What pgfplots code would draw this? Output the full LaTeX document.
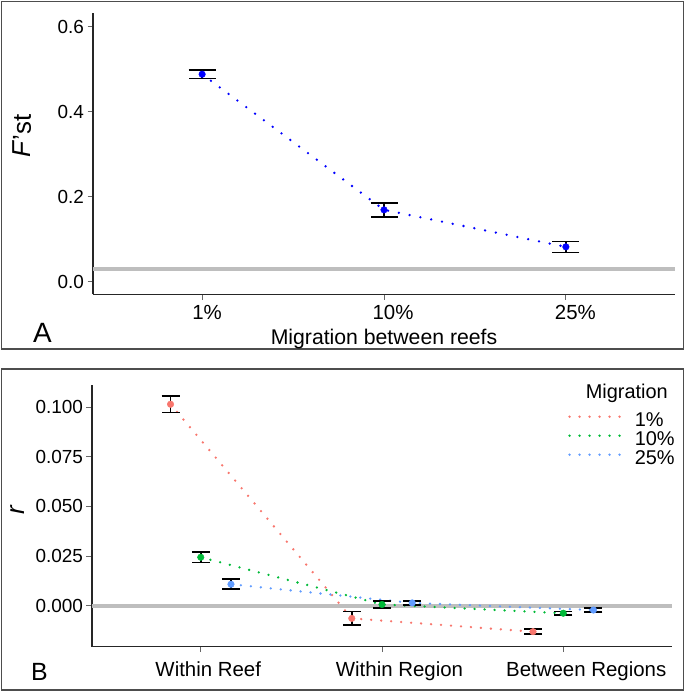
\documentclass[border=0pt]{standalone}
\usepackage{pgfplots}
\pgfplotsset{compat=1.18}
\usepackage{fontspec}
\setmainfont{Liberation Sans}
\definecolor{gR}{HTML}{F8766D}
\definecolor{gG}{HTML}{00BA38}
\definecolor{gB}{HTML}{619CFF}
\definecolor{hl}{HTML}{BEBEBE}
\definecolor{frame}{HTML}{4D4D4D}
\pgfplotsset{
  myaxis/.style={
    scale only axis,
    anchor=south west,
    xmin=0.4, xmax=3.6,
    axis x line*=bottom, axis y line*=left,
    axis line style={line width=1.3bp, black!85},
    tick align=outside,
    major tick length=5.5bp,
    tick style={line width=1bp, black!60},
    xtick={1,2,3},
    yticklabel style={font=\fontsize{19}{22}\selectfont, anchor=east},
    xticklabel style={font=\fontsize{20.5}{24}\selectfont, anchor=base},
    clip=false,
  },
  dotline/.style={line width=2.6bp, line cap=round, dash pattern=on 0bp off 10bp},
  ebar/.style={only marks, mark=none, forget plot,
    error bars/.cd, y dir=both, y explicit,
    error bar style={black, line width=1.6bp},
    error mark options={black, line width=1.6bp, mark size=#1, rotate=90}},
}
\begin{document}
\begin{tikzpicture}
\useasboundingbox (0,0) rectangle (685bp,692bp);
\draw[line width=1.5bp, frame] (1.5bp,343bp) rectangle (683.5bp,690.5bp);
\draw[line width=1.5bp, frame] (1.5bp,2bp) rectangle (683.5bp,323bp);
% Panel A
\begin{axis}[myaxis,
  at={(93bp,397.7bp)}, width=582bp, height=281.3bp,
  ymin=-0.0296, ymax=0.632,
  xticklabels={\hspace{10bp}1\%,\hspace{18bp}10\%,\hspace{19bp}25\%},
  xticklabel style={yshift=-20bp},
  ytick={0,0.2,0.4,0.6}, yticklabels={0.0,0.2,0.4,0.6},
  xlabel={Migration between reefs},
  xlabel style={at={(axis description cs:0.5,-0.1777)}, anchor=base, font=\fontsize{21.3}{25}\selectfont},
  ylabel={\textit{F}’st},
  ylabel style={at={(axis description cs:-0.122,0.5627)}, anchor=center, font=\fontsize{26}{30}\selectfont},
]
\addplot[hl, line width=4bp, forget plot] coordinates {(0.4,0.03) (3.6,0.03)};
\addplot[blue, dotline, dash pattern=on 0bp off 11bp] coordinates {(1,0.488) (2,0.169) (3,0.082)};
\addplot[ebar=13.5bp] coordinates {(1,0.488) +- (0,0.0105) (2,0.169) +- (0,0.0165) (3,0.082) +- (0,0.013)};
\addplot[only marks, mark=*, mark size=3.3bp, blue] coordinates {(1,0.488) (2,0.169) (3,0.082)};
\end{axis}
% Panel B
\begin{axis}[myaxis,
  at={(92bp,45.3bp)}, width=580bp, height=261.7bp,
  ymin=-0.02067, ymax=0.1112,
  xticklabels={\hspace{15bp}Within Reef,\hspace{35bp}Within Region,\hspace{46bp}Between Regions},
  xticklabel style={yshift=-24.5bp},
  ytick={0,0.025,0.05,0.075,0.1}, yticklabels={0.000,0.025,0.050,0.075,0.100},
  ylabel={\textit{r}},
  ylabel style={at={(axis description cs:-0.1276,0.5224)}, anchor=center, font=\fontsize{26}{30}\selectfont},
  legend style={draw=none, fill=none, inner sep=0pt, row sep=0pt,
    at={(axis description cs:0.8207,0.8968)}, anchor=north west,
    font=\fontsize{20}{24}\selectfont,
    nodes={inner sep=0pt, text height=14bp, text depth=5bp}},
  legend cell align=left,
  legend image code/.code={\draw[#1] (0bp,5bp) -- (50bp,5bp);},
]
\addplot[hl, line width=4bp, forget plot] coordinates {(0.4,0) (3.6,0)};
\addplot[gR, dotline] coordinates {(0.8333,0.1015) (1.8333,-0.0064) (2.8333,-0.0131)};
\addlegendentry{\hspace{14bp}1\%}
\addplot[gG, dotline] coordinates {(1,0.0244) (2,0.0006) (3,-0.0038)};
\addlegendentry{\hspace{14bp}10\%}
\addplot[gB, dotline] coordinates {(1.1667,0.0108) (2.1667,0.0014) (3.1667,-0.0022)};
\addlegendentry{\hspace{14bp}25\%}
\addplot[ebar=9bp] coordinates {(0.8333,0.1015) +- (0,0.0042) (1.8333,-0.0064) +- (0,0.0034) (2.8333,-0.0131) +- (0,0.0013)};
\addplot[ebar=9bp] coordinates {(1,0.0244) +- (0,0.0026) (2,0.0006) +- (0,0.0018) (3,-0.0038) +- (0,0.0009)};
\addplot[ebar=9bp] coordinates {(1.1667,0.0108) +- (0,0.0025) (2.1667,0.0014) +- (0,0.0010) (3.1667,-0.0022) +- (0,0.0009)};
\addplot[only marks, mark=*, mark size=3.3bp, gR, forget plot] coordinates {(0.8333,0.1015) (1.8333,-0.0064) (2.8333,-0.0131)};
\addplot[only marks, mark=*, mark size=3.3bp, gG, forget plot] coordinates {(1,0.0244) (2,0.0006) (3,-0.0038)};
\addplot[only marks, mark=*, mark size=3.3bp, gB, forget plot] coordinates {(1.1667,0.0108) (2.1667,0.0014) (3.1667,-0.0022)};
\node[anchor=east, inner sep=0pt, font=\fontsize{20}{24}\selectfont] at (axis description cs:0.9931,0.9694) {Migration};
\end{axis}
\node[anchor=base west, inner sep=0pt, font=\fontsize{28}{32}\selectfont] at (33bp,349bp) {A};
\node[anchor=base west, inner sep=0pt, font=\fontsize{25}{30}\selectfont] at (31bp,12bp) {B};
\end{tikzpicture}
\end{document}
